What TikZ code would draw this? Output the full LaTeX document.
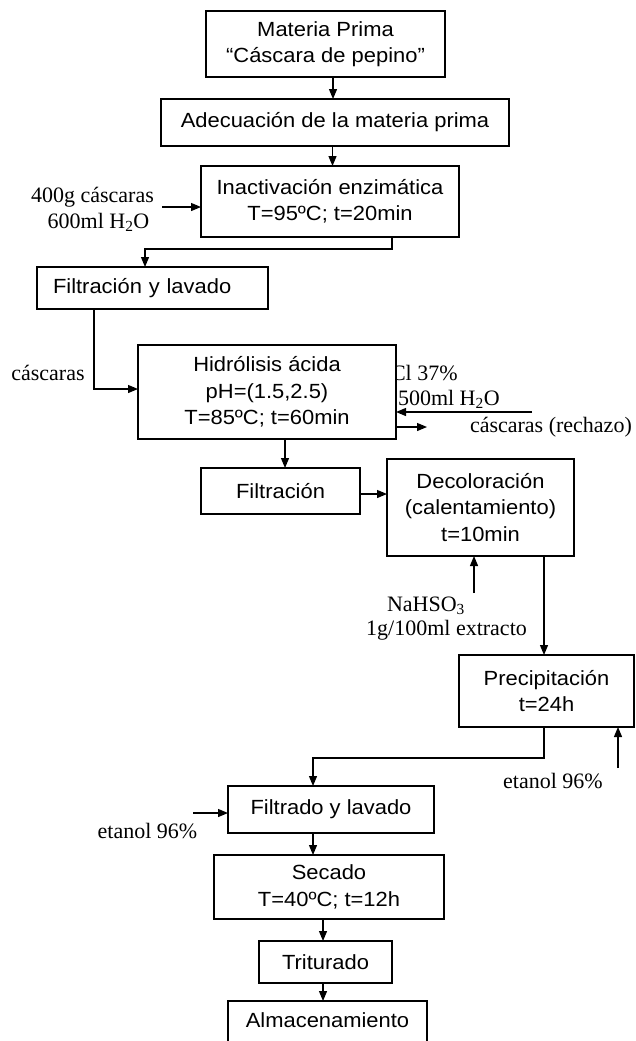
\documentclass[tikz,border=0pt]{standalone}
\usepackage{fontspec}
\setmainfont{Liberation Serif}
\newfontfamily\arialf[FakeStretch=1.07]{Liberation Sans}
\newcommand\boxfont{\arialf\fontsize{20.5}{26.5}\selectfont}
\newcommand\lblfont{\rmfamily\fontsize{22}{24}\selectfont}
\usetikzlibrary{arrows.meta,calc}
\begin{document}
\begin{tikzpicture}[x=1pt,y=-1pt,
  box/.style={draw, line width=1.2pt, fill=white, inner sep=0pt, outer sep=0pt, align=center, font=\boxfont},
  lbl/.style={inner sep=0pt, outer sep=0pt, font=\lblfont, anchor=base},
  arr/.style={line width=1.2pt, -{Triangle[length=10pt,width=8pt]}},
  conn/.style={line width=1.2pt}]
\clip (0,0) rectangle (636,1041);
\fill[white] (0,0) rectangle (636,1041);

% labels drawn behind the boxes
\node[lbl, anchor=base west] (hcl) at (391,380) {Cl 37\%};
\node[lbl, anchor=base west] (agua) at (398,405) {500ml H\textsubscript{2}O};

% boxes
\node[box, minimum width=239pt, minimum height=66pt] (mp) at (325.5,44) {Materia Prima\\“Cáscara de pepino”};
\node[box, minimum width=348pt, minimum height=47pt] (ad) at (335,122.5) {Adecuación de la materia prima};
\node[box, minimum width=258pt, minimum height=71pt] (ia) at (330,201.5) {Inactivación enzimática\\T=95ºC; t=20min};
\node[box, inner xsep=16pt, text width=199pt, align=left, minimum height=42pt] (fl) at (152.5,288) {Filtración y lavado};
\node[box, minimum width=258pt, minimum height=94pt] (hi) at (267,392) {Hidrólisis ácida\\pH=(1.5,2.5)\\T=85ºC; t=60min};
\node[box, minimum width=159pt, minimum height=46pt] (fi) at (280.5,491) {Filtración};
\node[box, minimum width=187pt, minimum height=97pt] (de) at (480.5,507.5) {Decoloración\\(calentamiento)\\t=10min};
\node[box, minimum width=175pt, minimum height=72pt] (pr) at (546.5,691) {Precipitación\\t=24h};
\node[box, minimum width=206pt, minimum height=47pt] (fy) at (331,809.5) {Filtrado y lavado};
\node[box, minimum width=230pt, minimum height=64pt] (se) at (329,887) {Secado\\T=40ºC; t=12h};
\node[box, minimum width=133pt, minimum height=42pt] (tr) at (325.5,962) {Triturado};
\node[box, minimum width=199pt, minimum height=49pt, text depth=11.5pt] (al) at (327.5,1025.5) {Almacenamiento};

% side labels
\node[lbl] (in1a) at (92.5,202) {400g cáscaras};
\node[lbl] (in1b) at (98.5,228) {600ml H\textsubscript{2}O};
\node[lbl] (cas) at (48,380) {cáscaras};
\node[lbl, anchor=base west] (rech) at (470,432) {cáscaras (rechazo)};
\node[lbl] (na1) at (426,611) {NaHSO\textsubscript{3}};
\node[lbl] (na2) at (446.5,635) {1g/100ml extracto};
\node[lbl] (et1l) at (553,788) {etanol 96\%};
\node[lbl] (et2l) at (147.5,838) {etanol 96\%};

% free ends
\coordinate (inA) at (162,207);
\coordinate (c1) at (145,249);
\coordinate (hin) at (532,412);
\coordinate (hout) at (427,427);
\coordinate (na) at (474,593);
\coordinate (et1) at (618,768);
\coordinate (c2) at (313,758);
\coordinate (et2) at (193,813);

% connectors
\draw[arr] ([xshift=7.5pt]mp.south) -- ([xshift=7.5pt]mp.south |- ad.north);
\draw[arr] ([xshift=-2.5pt]ad.south) -- ([xshift=-2.5pt]ad.south |- ia.north);
\draw[arr] (inA) -- (inA -| ia.west);
\draw[arr] ([xshift=62pt]ia.south) |- (c1) -- (c1 |- fl.north);
\draw[arr] ([xshift=-58.5pt]fl.south) |- ([yshift=3pt]hi.west);
\draw[arr] (hin) -- (hin -| hi.east);
\draw[arr] (hout -| hi.east) -- (hout);
\draw[arr] ([xshift=18pt]hi.south) -- ([xshift=18pt]hi.south |- fi.north);
\draw[arr] ([yshift=-3pt]fi.east) -- ([yshift=-3pt]fi.east -| de.west);
\draw[arr] (na) -- (na |- de.south);
\draw[arr] ([xshift=63.5pt]de.south) -- ([xshift=63.5pt]de.south |- pr.north);
\draw[arr] (et1) -- (et1 |- pr.south);
\draw[arr] ([xshift=-2.5pt]pr.south) |- (c2) -- (c2 |- fy.north);
\draw[arr] (et2) -- (et2 -| fy.west);
\draw[arr] ([xshift=-18pt]fy.south) -- ([xshift=-18pt]fy.south |- se.north);
\draw[arr] ([xshift=-6pt]se.south) -- ([xshift=-6pt]se.south |- tr.north);
\draw[arr] ([xshift=-2.5pt]tr.south) -- ([xshift=-2.5pt]tr.south |- al.north);
\end{tikzpicture}
\end{document}
